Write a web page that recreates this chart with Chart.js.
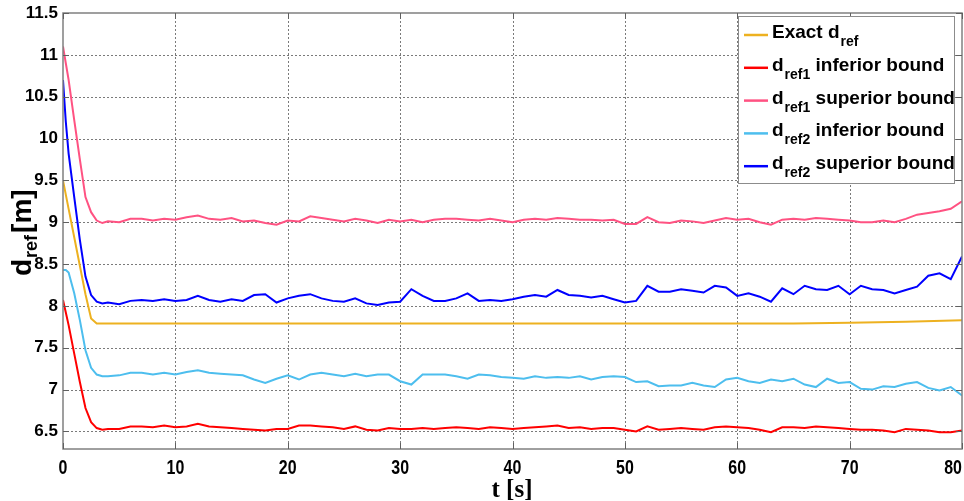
<!DOCTYPE html>
<html><head><meta charset="utf-8">
<script src="https://cdn.jsdelivr.net/npm/chart.js@4.4.1/dist/chart.umd.min.js"></script>
<style>html,body{margin:0;padding:0;background:#fff;}#wrap{width:964px;height:501px;}</style>
</head><body><div id="wrap"><canvas id="c" width="964" height="501"></canvas></div>
<script>
// ---- data ----
const tAxis = [0,0.25,0.5,1,1.5,2,2.5,3,3.5,
  4,5,6,7,8,9,10,11,12,13,14,15,16,17,18,19,20,21,22,23,24,25,26,27,28,29,30,
  31,32,33,34,35,36,37,38,39,40,41,42,43,44,45,46,47,48,49,50,51,52,53,54,55,
  56,57,58,59,60,61,62,63,64,65,66,67,68,69,70,71,72,73,74,75,76,77,78,79,80];

const exactT = [0,0.5,1,1.5,2,2.5,3,3.5,65,70,75,80];
const exactD = [9.5,9.16,8.82,8.48,8.14,7.85,7.79,7.79,7.79,7.8,7.81,7.83];

const ref1Inf = [8.07,7.92,7.77,7.43,7.09,6.78,6.61,6.54,6.52,
  6.53,6.53,6.56,6.56,6.55,6.57,6.55,6.56,6.59,6.56,6.55,6.54,6.53,6.52,6.51,6.53,6.53,6.57,6.57,6.56,6.55,6.53,6.56,6.52,6.51,6.54,6.53,
  6.53,6.54,6.53,6.54,6.55,6.54,6.53,6.55,6.54,6.53,6.54,6.55,6.56,6.57,6.54,6.55,6.53,6.54,6.54,6.52,6.5,6.56,6.52,6.53,6.54,
  6.53,6.52,6.55,6.56,6.55,6.54,6.52,6.49,6.55,6.55,6.54,6.56,6.55,6.54,6.53,6.52,6.52,6.51,6.49,6.53,6.52,6.51,6.49,6.49,6.51];

const ref1Sup = [11.1,10.9,10.7,10.22,9.75,9.3,9.12,9.02,8.99,
  9.01,9.0,9.04,9.04,9.02,9.04,9.03,9.06,9.08,9.04,9.03,9.05,9.01,9.02,8.99,8.97,9.02,9.01,9.07,9.05,9.03,9.01,9.04,9.02,8.99,9.03,9.01,
  9.03,9.0,9.03,9.04,9.04,9.03,9.02,9.04,9.02,9.0,9.03,9.04,9.03,9.05,9.04,9.03,9.03,9.02,9.03,8.98,8.98,9.06,9.0,8.99,9.02,
  9.01,8.99,9.02,9.05,9.03,9.04,9.0,8.97,9.03,9.04,9.03,9.05,9.04,9.03,9.02,9.0,9.0,9.02,9.0,9.04,9.09,9.11,9.13,9.16,9.25];

const ref2Inf = [8.43,8.43,8.4,8.15,7.83,7.47,7.26,7.18,7.16,
  7.16,7.17,7.2,7.2,7.18,7.2,7.18,7.21,7.23,7.2,7.19,7.18,7.17,7.12,7.08,7.13,7.17,7.12,7.18,7.2,7.18,7.16,7.19,7.16,7.18,7.18,7.1,
  7.06,7.18,7.18,7.18,7.16,7.13,7.18,7.17,7.15,7.14,7.13,7.16,7.14,7.15,7.14,7.16,7.12,7.15,7.16,7.15,7.09,7.1,7.04,7.05,7.05,
  7.08,7.05,7.03,7.12,7.14,7.1,7.08,7.12,7.1,7.13,7.06,7.03,7.13,7.08,7.09,7.01,7.0,7.04,7.03,7.07,7.09,7.02,6.99,7.03,6.93];

const ref2Sup = [10.7,10.2,9.82,9.3,8.79,8.35,8.13,8.05,8.03,
  8.04,8.02,8.06,8.07,8.06,8.08,8.06,8.07,8.12,8.07,8.05,8.08,8.06,8.13,8.14,8.04,8.09,8.12,8.14,8.09,8.06,8.05,8.09,8.03,8.01,8.04,8.05,
  8.2,8.12,8.06,8.06,8.09,8.15,8.06,8.07,8.06,8.08,8.11,8.13,8.11,8.19,8.13,8.12,8.1,8.12,8.08,8.04,8.06,8.24,8.17,8.17,8.2,
  8.18,8.16,8.24,8.22,8.12,8.15,8.11,8.05,8.21,8.14,8.24,8.2,8.19,8.24,8.14,8.24,8.2,8.19,8.15,8.19,8.23,8.36,8.39,8.32,8.59];

const yTickVals = [6.5,7,7.5,8,8.5,9,9.5,10,10.5,11,11.5];
const yTickLabels = ['6.5','7','7.5','8','8.5','9','9.5','10','10.5','11','11.5'];
const xTickVals = [0,10,20,30,40,50,60,70,80];
const xTickLabels = ['0','10','20','30','40','50','60','70','80'];

const seriesNames = ['Exact', 'ref1 inferior', 'ref1 superior', 'ref2 inferior', 'ref2 superior'];
const seriesColors = ['#EDB120','#FF0000','#FF5282','#4DBEEE','#0000FF'];

// legend text pieces: [main, subscript, rest]
const legendItems = [
  ['Exact d','ref',''],
  ['d','ref1',' inferior bound'],
  ['d','ref1',' superior bound'],
  ['d','ref2',' inferior bound'],
  ['d','ref2',' superior bound']
];

function pts(xs, ys){ return xs.map((x,i)=>({x:x,y:ys[i]})); }
const seriesData = [pts(exactT,exactD), pts(tAxis,ref1Inf), pts(tAxis,ref1Sup), pts(tAxis,ref2Inf), pts(tAxis,ref2Sup)];

const SANS = '"Liberation Sans", Arial, sans-serif';

const framePlugin = {
  id:'frame',
  beforeDatasetsDraw(chart){
    const {ctx, chartArea:a, scales:{x,y}} = chart;
    ctx.save();
    ctx.strokeStyle = '#7a7a7a'; ctx.lineWidth = 1; ctx.setLineDash([2,2]);
    ctx.beginPath();
    xTickVals.forEach(v=>{ if(v>0 && v<80){ const px=Math.round(x.getPixelForValue(v))+0.5; ctx.moveTo(px,a.top); ctx.lineTo(px,a.bottom);} });
    yTickVals.forEach(v=>{ const py=Math.round(y.getPixelForValue(v))+0.5; if(py>a.top+1 && py<a.bottom-1){ ctx.moveTo(a.left,py); ctx.lineTo(a.right,py);} });
    ctx.stroke();
    ctx.restore();
  },
  afterDatasetsDraw(chart){
    const {ctx, chartArea:a, scales:{x,y}} = chart;
    ctx.save();
    // box
    ctx.setLineDash([]);
    ctx.strokeStyle = '#808080'; ctx.lineWidth = 1.5;
    ctx.strokeRect(a.left, a.top, a.right-a.left, a.bottom-a.top);
    ctx.lineWidth = 1; ctx.strokeStyle = '#606060';
    ctx.beginPath();
    xTickVals.forEach(v=>{ const px=Math.round(x.getPixelForValue(v))+0.5;
      ctx.moveTo(px,a.bottom); ctx.lineTo(px,a.bottom-6); ctx.moveTo(px,a.top); ctx.lineTo(px,a.top+6); });
    yTickVals.forEach(v=>{ const py=Math.round(y.getPixelForValue(v))+0.5;
      ctx.moveTo(a.left,py); ctx.lineTo(a.left+6,py); ctx.moveTo(a.right,py); ctx.lineTo(a.right-6,py); });
    ctx.stroke();

    // x tick labels (narrow bold)
    ctx.fillStyle='#000'; ctx.textBaseline='alphabetic';
    ctx.font='bold 21px '+SANS;
    xTickVals.forEach((v,i)=>{
      const px = x.getPixelForValue(v);
      ctx.save(); ctx.translate(px, a.bottom+25); ctx.scale(0.76,1);
      ctx.textAlign = (i===xTickVals.length-1) ? 'right' : 'center';
      ctx.fillText(xTickLabels[i], 0, 0);
      ctx.restore();
    });

    // legend
    const lx=738, ly=16, lw=216, lh=167;
    ctx.fillStyle='#fff'; ctx.fillRect(lx,ly,lw,lh);
    ctx.strokeStyle='#8c8c8c'; ctx.lineWidth=1; ctx.strokeRect(lx+0.5,ly+0.5,lw,lh);
    legendItems.forEach((it,i)=>{
      const yl = 35 + i*32.8;
      ctx.strokeStyle = seriesColors[i]; ctx.lineWidth = 2.5;
      ctx.beginPath(); ctx.moveTo(744,yl); ctx.lineTo(768,yl); ctx.stroke();
      ctx.fillStyle='#000'; ctx.textAlign='left'; ctx.textBaseline='alphabetic';
      let xx = 772; const yb = yl+3;
      ctx.font = 'bold 19px '+SANS; ctx.fillText(it[0],xx,yb); xx += ctx.measureText(it[0]).width;
      ctx.font = 'bold 14px '+SANS; ctx.fillText(it[1],xx+1,yb+8); xx += ctx.measureText(it[1]).width+1;
      if(it[2]){ ctx.font = 'bold 19px '+SANS; ctx.fillText(it[2],xx,yb); }
    });

    // y title
    ctx.save();
    ctx.translate(31, 276); ctx.rotate(-Math.PI/2);
    ctx.fillStyle='#000'; ctx.textAlign='left'; ctx.textBaseline='alphabetic';
    ctx.font='bold 28px '+SANS; ctx.fillText('d',0,0); let w=ctx.measureText('d').width;
    ctx.font='bold 18px '+SANS; ctx.fillText('ref',w+1,6); w+=ctx.measureText('ref').width+3;
    ctx.font='bold 28px '+SANS; ctx.fillText('[m]',w,0);
    ctx.restore();

    // x title
    ctx.fillStyle='#000'; ctx.textAlign='center'; ctx.textBaseline='alphabetic';
    ctx.font='bold 25px "Liberation Serif", "Times New Roman", serif';
    ctx.fillText('t [s]', 512, 497);
    ctx.restore();
  }
};

new Chart(document.getElementById('c'), {
  type:'line',
  data:{ datasets: seriesData.map((d,i)=>({
    label: seriesNames[i], data:d, borderColor: seriesColors[i], backgroundColor: seriesColors[i],
    borderWidth: 2, pointRadius: 0, tension: 0, fill:false
  })) },
  options:{
    responsive:false, animation:false,
    layout:{ padding:{ top:13, right:2, left:0, bottom:0 } },
    plugins:{ legend:{display:false}, tooltip:{enabled:false} },
    scales:{
      x:{ type:'linear', min:0, max:80,
        afterBuildTicks(s){ s.ticks = xTickVals.map(v=>({value:v})); },
        ticks:{ display:false },
        grid:{ display:false, drawTicks:false }, border:{display:false},
        afterFit(s){ s.height = 52; s.paddingLeft = 0; s.paddingRight = 0; } },
      y:{ type:'linear', min:6.29, max:11.5,
        afterBuildTicks(s){ s.ticks = yTickVals.map(v=>({value:v})); },
        ticks:{ autoSkip:false, color:'#000', padding:5,
          callback:(v)=>{ const k=yTickVals.indexOf(v); return k>=0? yTickLabels[k] : ''; },
          font:{ family:SANS, size:17, weight:'bold' } },
        grid:{ display:false, drawTicks:false }, border:{display:false},
        afterFit(s){ s.width = 63; s.paddingTop = 0; s.paddingBottom = 0; } }
    }
  },
  plugins:[framePlugin]
});
</script>
</body></html>
